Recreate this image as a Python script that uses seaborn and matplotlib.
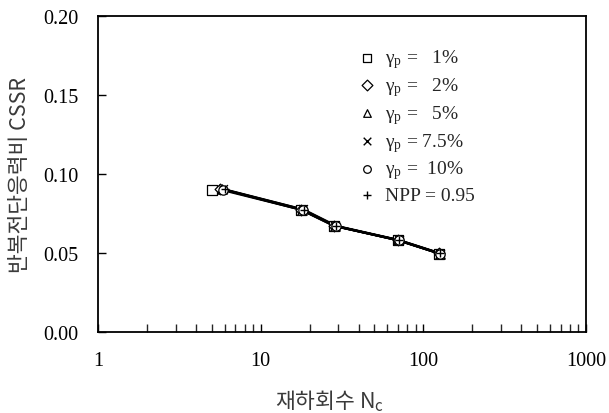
import matplotlib
matplotlib.use("Agg")
import matplotlib.pyplot as plt
import seaborn as sns
import pandas as pd
import numpy as np
from matplotlib.ticker import LogLocator, FixedLocator, FormatStrFormatter, NullFormatter

# ---- data ----
labels = ["γ$_\\mathregular{p}$ =   1%", "γ$_\\mathregular{p}$ =   2%", "γ$_\\mathregular{p}$ =   5%",
          "γ$_\\mathregular{p}$ = 7.5%", "γ$_\\mathregular{p}$ =  10%", "NPP = 0.95"]
markers = ["s", "D", "^", "x", "o", "+"]
nc_1 = [5.0, 17.6, 28.2, 69.5, 125.0]
cssr_1 = [0.0896, 0.0774, 0.0671, 0.0581, 0.0496]
nc_2 = [5.6, 17.8, 28.4, 69.8, 125.5]
cssr_2 = [0.0902, 0.0773, 0.0672, 0.0580, 0.0497]
nc_5 = [5.75, 17.9, 28.6, 70.2, 126.0]
cssr_5 = [0.0904, 0.0772, 0.0671, 0.0581, 0.0496]
nc_75 = [5.85, 18.1, 28.8, 70.5, 126.5]
cssr_75 = [0.0903, 0.0775, 0.0670, 0.0579, 0.0495]
nc_10 = [5.9, 18.2, 28.9, 70.8, 127.0]
cssr_10 = [0.0901, 0.0772, 0.0669, 0.0580, 0.0496]
nc_npp = [6.0, 18.4, 29.2, 71.0, 127.5]
cssr_npp = [0.0902, 0.0774, 0.0671, 0.0581, 0.0497]
x_ticks = [1, 10, 100, 1000]
x_ticklabels = ["1", "10", "100", "1000"]
y_ticks = [0.00, 0.05, 0.10, 0.15, 0.20]

series_nc = [nc_1, nc_2, nc_5, nc_75, nc_10, nc_npp]
series_cs = [cssr_1, cssr_2, cssr_5, cssr_75, cssr_10, cssr_npp]

sns.set_theme(style="white")
plt.rcParams["font.family"] = ["Liberation Serif", "DejaVu Sans"]
plt.rcParams["mathtext.fontset"] = "custom"
plt.rcParams["mathtext.rm"] = "Liberation Serif"
plt.rcParams["mathtext.it"] = "Liberation Serif:italic"

fig = plt.figure(figsize=(6.09, 4.14), dpi=100)
ax = fig.add_axes([0.161, 0.196, 0.801, 0.763])

for i, (nc, cs) in enumerate(zip(series_nc, series_cs)):
    df = pd.DataFrame({"Nc": nc, "CSSR": cs})
    line_df = df if i > 0 else df.iloc[1:]
    sns.lineplot(data=line_df, x="Nc", y="CSSR", ax=ax, color="black", lw=1.6,
                 estimator=None, sort=False, legend=False)
    m = markers[i]
    if m in ("x", "+"):
        sns.scatterplot(data=df, x="Nc", y="CSSR", ax=ax, marker=m, color="black",
                        s=40, linewidth=1.0, label=labels[i], zorder=3)
    else:
        sns.scatterplot(data=df, x="Nc", y="CSSR", ax=ax, marker=m, facecolor="white",
                        edgecolor="black", s=45 if m != "D" else 30, linewidth=0.9,
                        label=labels[i], zorder=3)

ax.set_xscale("log")
ax.set_xlim(1, 1000)
ax.set_ylim(0, 0.20)
ax.xaxis.set_major_locator(FixedLocator(x_ticks))
ax.set_xticklabels(x_ticklabels)
ax.xaxis.set_minor_locator(LogLocator(base=10, subs=np.arange(2, 10)))
ax.xaxis.set_minor_formatter(NullFormatter())
ax.yaxis.set_major_locator(FixedLocator(y_ticks))
ax.yaxis.set_major_formatter(FormatStrFormatter("%.2f"))

ax.tick_params(axis="both", which="major", direction="in", length=6, width=1,
               labelsize=14.5, colors="black", bottom=True, left=True,
               top=False, right=False)
ax.tick_params(axis="x", which="major", pad=14)
ax.tick_params(axis="y", which="major", pad=14)
ax.tick_params(axis="x", which="minor", direction="in", length=6, width=1,
               bottom=True, top=False)
for sp in ax.spines.values():
    sp.set_color("black")
    sp.set_linewidth(1.3)

ax.set_xlabel("재하회수 N$_\\mathregular{c}$", fontsize=15.5, color="#3a3a3a",
              family=["Noto Sans CJK KR", "DejaVu Sans"], labelpad=8)
ax.set_ylabel("반복전단응력비 CSSR", fontsize=15.5, color="#3a3a3a",
              family=["Noto Sans CJK KR", "DejaVu Sans"], labelpad=9)
ax.xaxis.set_label_coords(0.475, -0.175)

leg = ax.legend(loc="upper left", bbox_to_anchor=(0.516, 0.925), frameon=False,
                fontsize=14, handletextpad=0.4, labelspacing=0.25,
                handlelength=1.0, borderaxespad=0)
for h in leg.legend_handles:
    try:
        h.set_sizes([30])
    except Exception:
        pass

fig.savefig("out.png", dpi=100)
